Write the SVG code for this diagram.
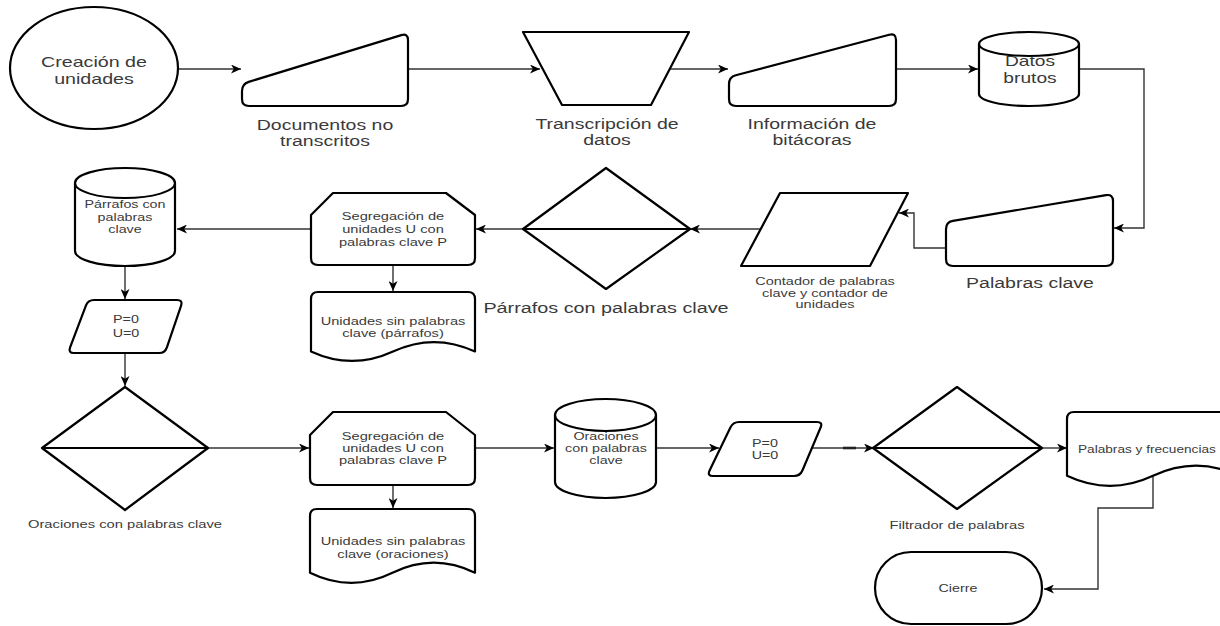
<svg xmlns="http://www.w3.org/2000/svg" width="1220" height="626" viewBox="0 0 1220 626">
<defs>
<marker id="arr" markerWidth="11" markerHeight="9" refX="10" refY="4.5" orient="auto" markerUnits="userSpaceOnUse">
<path d="M0,0 L10,4.5 L0,9 L2.8,4.5 Z" fill="#000"/>
</marker>
<style>
.sh{fill:#fff;stroke:#000;stroke-width:2.2;stroke-linejoin:round}
.ln{fill:none;stroke:#000;stroke-width:2}
.c{fill:none;stroke:#333;stroke-width:1.4;marker-end:url(#arr)}
.c0{fill:none;stroke:#333;stroke-width:1.4}
.t{font-family:"Liberation Sans",Arial,sans-serif;fill:#3a3a3a;text-anchor:middle}
.b{font-size:15px}
.s{font-size:11px}
</style>
</defs>
<rect width="1220" height="626" fill="#fff"/>

<g id="connectors">
<path class="c" d="M178,69 L241,69"/>
<path class="c" d="M408,69 L540,69"/>
<path class="c" d="M670,69 L728,69"/>
<path class="c" d="M896,69 L978,69"/>
<path class="c" d="M1079,69 L1144,69 L1144,228 L1114,228"/>
<path class="c" d="M946,248 L914,248 L914,213 L899,213"/>
<path class="c" d="M761,229 L690,229"/>
<path class="c" d="M523,229 L476,229"/>
<path class="c" d="M311,229 L177,229"/>
<path class="c" d="M393,265 L393,291"/>
<path class="c" d="M125,266 L125,299"/>
<path class="c" d="M125,353 L125,386"/>
<path class="c" d="M208,448 L309,448"/>
<path class="c" d="M393,485 L393,508"/>
<path class="c" d="M475,448 L554,448"/>
<path class="c" d="M656,448 L719,448"/>
<path class="c" d="M812,448 L874,448"/>
<path class="c0" d="M843,448 L856,448" style="stroke-width:2.6;stroke:#222"/>
<path class="c" d="M1042,448 L1067,448"/>
<path class="c" d="M1153,476 L1153,508 L1098,508 L1098,589 L1044,589"/>
</g>

<g id="n-creacion">
<ellipse class="sh" cx="94" cy="68" rx="84" ry="61"/>
<text class="t b" transform="translate(94,0) scale(1.31,1)"><tspan x="0" y="67">Creación de</tspan><tspan x="0" y="84">unidades</tspan></text>
</g>

<g id="n-documentos">
<path class="sh" d="M248.7,81.9 L401.3,35.1 Q408,33 408,40 L408,99 Q408,106 401,106 L249,106 Q242,106 242,99 L242,91 Q242,84 248.7,81.9 Z"/>
<text class="t b" transform="translate(325,0) scale(1.3,1)"><tspan x="0" y="130">Documentos no</tspan><tspan x="0" y="146">transcritos</tspan></text>
</g>

<g id="n-transcripcion">
<path class="sh" d="M523,32 L689,32 L651,105 L562,105 Z"/>
<text class="t b" transform="translate(607,0) scale(1.3,1)"><tspan x="0" y="129">Transcripción de</tspan><tspan x="0" y="145">datos</tspan></text>
</g>

<g id="n-informacion">
<path class="sh" d="M735.8,75.2 L889.2,34.8 Q896,33 896,40 L896,99 Q896,106 889,106 L736,106 Q729,106 729,99 L729,84 Q729,77 735.8,75.2 Z"/>
<text class="t b" transform="translate(812,0) scale(1.3,1)"><tspan x="0" y="129">Información de</tspan><tspan x="0" y="145">bitácoras</tspan></text>
</g>

<g id="n-datos">
<path class="sh" d="M979,44 A50,12 0 0 1 1079,44 L1079,94 A50,12 0 0 1 979,94 Z"/>
<path class="ln" d="M979,44 A50,12 0 0 0 1079,44"/>
<text class="t b" transform="translate(1030,0) scale(1.28,1)"><tspan x="0" y="66">Datos</tspan><tspan x="0" y="83">brutos</tspan></text>
</g>

<g id="n-palabras-clave">
<path class="sh" d="M952.9,220.8 L1106.1,195.2 Q1113,194 1113,201 L1113,259 Q1113,266 1106,266 L953,266 Q946,266 946,259 L946,229 Q946,222 952.9,220.8 Z"/>
<text class="t b" transform="translate(1030,0) scale(1.3,1)"><tspan x="0" y="288">Palabras clave</tspan></text>
</g>

<g id="n-contador">
<path class="sh" d="M780,193 L908,193 L870,266 L741,266 Z"/>
<text class="t s" transform="translate(825,0) scale(1.32,1)"><tspan x="0" y="285">Contador de palabras</tspan><tspan x="0" y="297">clave y contador de</tspan><tspan x="0" y="308">unidades</tspan></text>
</g>

<g id="n-parrafos-decision">
<path class="sh" d="M606,168 L690,229 L606,289 L523,229 Z"/>
<path class="ln" d="M523,229 L690,229"/>
<text class="t b" transform="translate(606,0) scale(1.32,1)"><tspan x="0" y="313">Párrafos con palabras clave</tspan></text>
</g>

<g id="n-segregacion1">
<path class="sh" d="M311,215 L333,193 L446,193 L475,215 L475,258 Q475,265 468,265 L318,265 Q311,265 311,258 Z"/>
<text class="t s" transform="translate(393,0) scale(1.33,1)"><tspan x="0" y="220">Segregación de</tspan><tspan x="0" y="233">unidades U con</tspan><tspan x="0" y="246">palabras clave P</tspan></text>
</g>

<g id="n-unidades1">
<path class="sh" d="M318,292 L468,292 Q475,292 475,299 L475,351.5 Q434,332.6 393,351.5 Q352,370.4 311,351.5 L311,299 Q311,292 318,292 Z"/>
<text class="t s" transform="translate(393,0) scale(1.33,1)"><tspan x="0" y="325">Unidades sin palabras</tspan><tspan x="0" y="337">clave (párrafos)</tspan></text>
</g>

<g id="n-parrafos-db">
<path class="sh" d="M75,183 A50,15 0 0 1 175,183 L175,251 A50,15 0 0 1 75,251 Z"/>
<path class="ln" d="M75,183 A50,15 0 0 0 175,183"/>
<text class="t s" transform="translate(125,0) scale(1.3,1)"><tspan x="0" y="208">Párrafos con</tspan><tspan x="0" y="221">palabras</tspan><tspan x="0" y="233">clave</tspan></text>
</g>

<g id="n-p0-1">
<path class="sh" d="M85.9,305.6 Q88,300 94,300 L177,300 Q183,300 181.1,305.7 L166.9,347.3 Q165,353 159,353 L74,353 Q68,353 70.1,347.4 Z"/>
<text class="t s" transform="translate(126,0) scale(1.3,1)"><tspan x="0" y="323">P=0</tspan><tspan x="0" y="337">U=0</tspan></text>
</g>

<g id="n-oraciones-decision">
<path class="sh" d="M125,387 L208,448 L125,510 L42,448 Z"/>
<path class="ln" d="M42,448 L208,448"/>
<text class="t s" transform="translate(125,0) scale(1.34,1)"><tspan x="0" y="528">Oraciones con palabras clave</tspan></text>
</g>

<g id="n-segregacion2">
<path class="sh" d="M310,435 L333,412 L446,412 L475,435 L475,478 Q475,485 468,485 L317,485 Q310,485 310,478 Z"/>
<text class="t s" transform="translate(393,0) scale(1.33,1)"><tspan x="0" y="440">Segregación de</tspan><tspan x="0" y="452">unidades U con</tspan><tspan x="0" y="464">palabras clave P</tspan></text>
</g>

<g id="n-unidades2">
<path class="sh" d="M317,509 L468,509 Q475,509 475,516 L475,572.75 Q433.75,552.5 392.5,572.75 Q351.25,593 310,572.75 L310,516 Q310,509 317,509 Z"/>
<text class="t s" transform="translate(393,0) scale(1.33,1)"><tspan x="0" y="545">Unidades sin palabras</tspan><tspan x="0" y="558">clave (oraciones)</tspan></text>
</g>

<g id="n-oraciones-db">
<path class="sh" d="M555,415 A50.5,16 0 0 1 656,415 L656,482 A50.5,16 0 0 1 555,482 Z"/>
<path class="ln" d="M555,415 A50.5,16 0 0 0 656,415"/>
<text class="t s" transform="translate(606,0) scale(1.3,1)"><tspan x="0" y="440">Oraciones</tspan><tspan x="0" y="452">con palabras</tspan><tspan x="0" y="464">clave</tspan></text>
</g>

<g id="n-p0-2">
<path class="sh" d="M730.4,427.4 Q733,422 739,422 L817,422 Q823,422 820.6,427.5 L802.4,470.5 Q800,476 794,476 L713,476 Q707,476 709.6,470.6 Z"/>
<text class="t s" transform="translate(765,0) scale(1.3,1)"><tspan x="0" y="447">P=0</tspan><tspan x="0" y="459">U=0</tspan></text>
</g>

<g id="n-filtrador">
<path class="sh" d="M957,387 L1042,448 L957,509 L873,448 Z"/>
<path class="ln" d="M873,448 L1042,448"/>
<text class="t s" transform="translate(957,0) scale(1.34,1)"><tspan x="0" y="529">Filtrador de palabras</tspan></text>
</g>

<g id="n-frecuencias">
<path class="sh" d="M1074,412 L1232,412 Q1239,412 1239,419 L1239,475.75 Q1196,455.5 1153,475.75 Q1110,496 1067,475.75 L1067,419 Q1067,412 1074,412 Z"/>
<text class="t s" style="text-anchor:start" transform="translate(1078,0) scale(1.24,1)"><tspan x="0" y="453">Palabras y frecuencias</tspan></text>
</g>

<g id="n-cierre">
<rect class="sh" x="875" y="552" width="167" height="72" rx="36" ry="36"/>
<text class="t s" transform="translate(958,0) scale(1.3,1)"><tspan x="0" y="592">Cierre</tspan></text>
</g>
</svg>
